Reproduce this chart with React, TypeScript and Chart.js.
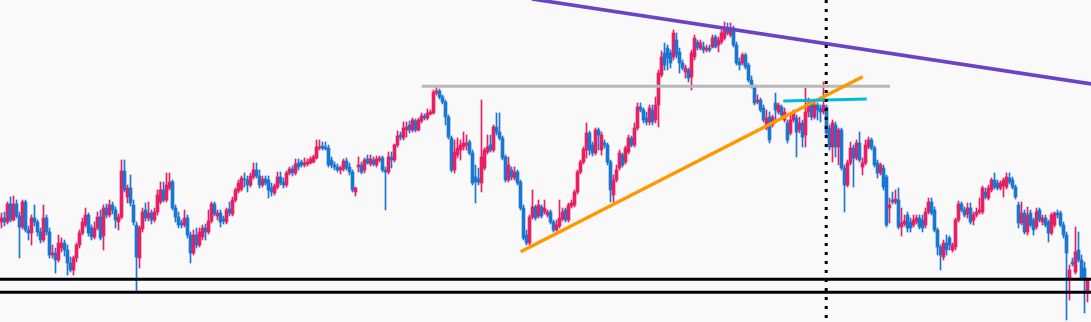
import { useEffect, useRef } from "react";
import { Chart, registerables } from "chart.js";

Chart.register(...registerables);

// ---- Candle data (price units) ----
const opens = [
  100,104,100,118,102,118,106,95,120,92,
  89,104,100,90,82,104,90,67,69,62,
  74,79,72,59,52,64,77,89,97,107,
  94,85,94,105,86,114,107,117,112,100,
  105,151,125,134,117,97,64,93,112,104,
  109,102,110,120,132,122,134,140,114,105,
  99,97,104,87,69,87,77,85,94,90,
  101,118,106,109,103,100,113,108,122,131,
  133,143,142,137,145,152,146,137,143,142,
  134,129,135,145,140,137,149,153,149,159,
  160,157,158,159,160,164,174,176,175,174,
  162,157,155,152,153,161,155,150,130,155,
  157,152,163,158,162,157,162,164,152,150,
  165,162,177,187,184,192,197,192,201,192,
  201,206,204,208,209,229,231,225,220,205,
  184,152,167,172,175,177,180,169,145,143,
  139,154,170,177,172,195,190,184,165,142,
  152,144,150,140,114,87,79,105,115,106,
  115,110,107,110,100,92,96,103,112,102,
  116,117,130,150,160,172,189,177,169,192,
  172,179,177,160,127,142,154,167,160,170,
  184,177,194,215,212,204,200,212,202,217,
  247,269,274,269,265,282,270,259,250,252,
  245,265,280,274,275,272,274,275,285,277,
  280,284,294,287,294,277,260,259,267,257,
  242,235,220,222,214,194,205,197,219,210,
  215,202,199,189,202,204,192,199,187,210,
  219,205,217,214,210,215,194,175,197,175,
  192,154,137,159,174,164,179,155,159,175,
  182,174,159,149,154,145,114,122,120,122,
  95,98,107,100,97,100,104,102,97,110,
  120,112,92,75,65,79,84,72,75,102,
  118,112,108,114,102,107,110,110,130,124,
  132,142,139,134,136,135,144,142,135,117,
  99,109,90,109,102,95,112,100,104,100,
  89,97,109,109,97,87,44,60,50,72,
  62,54,30,
];

const highs = [
  109,110,120,125,126,122,110,122,122,96,
  107,117,102,94,117,107,94,77,74,87,
  84,82,77,65,66,79,92,104,114,109,
  97,100,110,112,117,118,122,120,115,108,
  162,162,137,147,122,100,96,114,119,120,
  112,114,132,140,140,149,149,142,117,110,
  102,112,107,90,92,94,94,97,98,112,
  120,120,112,112,106,114,120,125,134,142,
  146,149,146,149,159,159,152,146,146,146,
  139,138,150,150,144,151,155,156,163,163,
  162,164,163,165,167,182,182,180,180,177,
  165,160,158,156,163,164,159,152,135,165,
  160,164,167,167,165,166,166,166,155,170,
  170,178,191,190,200,200,201,204,203,204,
  209,208,213,212,232,235,233,227,222,207,
  186,182,184,182,190,187,182,172,157,154,
  222,174,187,187,197,209,209,186,167,165,
  155,155,152,142,117,92,107,132,117,122,
  117,122,112,112,102,102,122,114,114,119,
  122,132,152,162,175,199,191,180,194,194,
  190,182,179,162,147,157,172,169,176,187,
  186,199,219,219,214,210,217,217,225,252,
  271,279,277,272,292,289,274,262,257,254,
  272,287,282,282,280,277,277,287,287,285,
  292,300,299,299,296,280,264,269,269,259,
  246,237,227,224,217,212,210,207,229,219,
  217,214,202,207,212,207,205,202,234,224,
  222,220,219,217,240,217,197,202,200,194,
  194,157,162,180,177,182,190,164,182,185,
  184,176,162,159,157,147,124,130,132,134,
  114,107,110,104,107,107,107,107,114,124,
  124,115,94,77,82,87,86,79,104,121,
  120,115,119,119,110,114,124,136,134,137,
  144,149,142,141,144,149,149,145,137,120,
  120,112,115,112,104,114,114,107,107,102,
  109,110,112,111,100,90,57,64,95,90,
  67,60,44,
];

const lows = [
  94,96,98,100,101,104,64,93,90,82,
  77,96,86,79,80,87,64,64,49,60,
  70,66,47,50,47,60,74,87,95,86,
  82,83,92,82,72,104,105,108,94,92,
  103,130,119,116,97,30,54,90,101,101,
  98,100,107,118,120,120,132,112,100,94,
  94,95,84,59,67,74,75,82,82,88,
  99,106,102,95,98,98,106,106,120,129,
  131,135,130,135,143,144,134,135,137,124,
  126,127,133,137,134,135,147,146,147,152,
  155,155,156,158,159,163,172,172,172,155,
  154,152,150,148,151,152,147,130,126,150,
  148,149,158,156,156,155,160,150,112,148,
  154,160,175,182,182,185,189,190,190,191,
  199,202,202,207,208,227,223,218,197,183,
  150,149,164,162,172,172,167,137,119,137,
  130,152,168,170,170,187,182,162,140,140,
  142,142,137,112,82,77,77,103,102,104,
  104,108,105,98,90,91,94,101,100,100,
  114,115,128,148,158,164,167,166,167,172,
  167,174,157,120,120,140,152,155,158,168,
  175,175,192,210,199,197,197,197,199,195,
  245,252,252,254,262,264,249,252,244,240,
  232,262,272,272,269,270,270,274,274,270,
  278,282,287,285,275,257,252,257,253,240,
  234,217,218,210,200,192,179,195,199,208,
  205,200,179,187,200,165,189,175,175,205,
  202,203,202,200,208,184,172,160,165,157,
  152,110,135,157,135,162,160,147,157,173,
  172,155,144,147,132,95,99,118,118,93,
  86,96,90,90,95,98,93,90,94,108,
  107,90,67,52,62,67,72,70,72,100,
  110,105,104,98,97,105,108,108,123,122,
  130,133,132,132,125,133,138,133,123,94,
  97,88,87,95,87,93,100,97,95,80,
  87,95,104,95,84,2,22,56,48,60,
  42,9,20,
];

const closes = [
  104,100,118,102,118,106,95,120,92,89,
  104,100,90,82,104,90,67,69,62,79,
  79,72,59,52,64,77,89,100,107,89,
  85,94,105,84,114,107,117,112,102,105,
  151,132,134,119,100,65,94,110,104,109,
  102,110,127,132,122,137,140,114,105,97,
  97,104,87,69,87,77,90,94,90,101,
  118,108,109,100,101,112,109,122,132,139,
  144,142,137,146,152,146,137,143,139,132,
  130,136,145,139,137,149,153,149,158,155,
  157,159,160,163,165,175,175,174,173,157,
  157,155,152,154,161,154,150,132,134,157,
  150,162,159,163,158,163,164,152,150,165,
  162,177,186,185,194,195,192,202,192,202,
  206,204,209,210,230,231,225,220,205,185,
  152,170,174,177,179,179,169,139,140,140,
  165,172,175,172,195,190,184,164,142,157,
  145,150,139,114,84,79,105,115,104,117,
  106,114,110,100,92,97,104,110,102,117,
  119,130,150,160,173,189,172,169,192,187,
  187,177,160,132,142,152,169,157,174,184,
  177,194,215,212,202,200,214,200,217,249,
  265,257,264,259,289,267,259,254,254,244,
  269,284,274,279,272,274,272,284,275,282,
  289,294,289,294,277,259,257,267,255,242,
  235,219,222,212,202,204,182,205,212,217,
  207,210,182,202,209,190,199,185,210,219,
  205,217,212,210,217,189,175,199,175,192,
  154,137,159,174,164,179,162,159,177,182,
  174,157,149,157,135,97,117,120,123,95,
  99,101,94,94,102,104,95,94,110,120,
  109,92,75,67,79,72,77,77,102,118,
  112,107,114,100,107,110,112,134,125,134,
  142,135,134,139,142,145,140,135,125,99,
  109,90,107,97,92,110,102,104,97,89,
  107,109,107,97,87,69,52,58,70,62,
  44,42,42,
];

// ---- Drawings: anchors as [bar index, price] ----
const descendingTrend = [[176.8, 323.1], [363.2, 238.1]];
const ascendingTrend = [[173.07, 70.3], [287.07, 245.3]];
const shortLevel = [[260.6, 221], [288.4, 223]];
const rangeHigh = [[140.07, 235.7], [296.17, 235.7]];
const supportLevels = [42.7, 29.7];
const markerBar = 274.9;

const PRICE_MIN = 0;
const PRICE_MAX = 322;
const VISIBLE_BARS = 363.667;

const UP = "#e91e63";
const DOWN = "#1976d2";
const BG = "#f9f9f9";

export default function App() {
  const ref = useRef<HTMLCanvasElement | null>(null);

  useEffect(() => {
    document.body.style.margin = "0";
    document.body.style.background = BG;
    const canvas = ref.current;
    if (!canvas) return;
    const colors = opens.map((o, i) => (closes[i] >= o ? UP : DOWN));
    const xMin = -0.5;
    const xMax = xMin + VISIBLE_BARS;

    const lineDs = (pts: number[][], color: string, order: number, extra: any = {}) => ({
      type: "line" as const,
      data: pts.map(([x, y]) => ({ x, y })),
      borderColor: color,
      borderWidth: 3,
      pointRadius: 0,
      fill: false,
      tension: 0,
      order,
      ...extra,
    });

    const bgPlugin = {
      id: "bg",
      beforeDraw(chart: any) {
        const { ctx, width, height } = chart;
        ctx.save();
        ctx.fillStyle = BG;
        ctx.fillRect(0, 0, width, height);
        ctx.restore();
      },
    };

    const chart = new Chart(canvas, {
      type: "bar",
      data: {
        datasets: [
          {
            type: "bar",
            data: opens.map((o, i) => ({ x: i, y: [o, closes[i]] })) as any,
            backgroundColor: colors,
            barThickness: 3,
            minBarLength: 1,
            grouped: false,
            borderWidth: 0,
            order: 10,
          },
          {
            type: "bar",
            data: opens.map((_, i) => ({ x: i, y: [lows[i], highs[i]] })) as any,
            backgroundColor: colors,
            barThickness: 1,
            grouped: false,
            borderWidth: 0,
            order: 11,
          },
          lineDs(descendingTrend, "#6c43c4", 5, { borderWidth: 3.5 }) as any,
          lineDs(ascendingTrend, "#ff9800", 4, { borderWidth: 3.5 }) as any,
          lineDs(rangeHigh, "#b8b8b8", 6) as any,
          lineDs(shortLevel, "#00bcd4", 3) as any,
          ...supportLevels.map((p) =>
            lineDs([[xMin, p], [xMax, p]], "#000000", 2) as any
          ),
          lineDs(
            [[markerBar, PRICE_MAX], [markerBar, PRICE_MIN]],
            "#000000",
            1,
            { borderDash: [3, 6], borderCapStyle: "butt" }
          ) as any,
        ],
      },
      options: {
        responsive: false,
        animation: false,
        devicePixelRatio: 1,
        layout: { padding: 0 },
        plugins: { legend: { display: false }, tooltip: { enabled: false } },
        scales: {
          x: {
            type: "linear",
            min: xMin,
            max: xMax,
            offset: false,
            display: false,
            grid: { display: false },
          },
          y: {
            min: PRICE_MIN,
            max: PRICE_MAX,
            display: false,
            grid: { display: false },
          },
        },
      },
      plugins: [bgPlugin],
    });

    return () => chart.destroy();
  }, []);

  return (
    <div style={{ width: 1091, height: 322, background: BG }}>
      <canvas ref={ref} width={1091} height={322} style={{ display: "block" }} />
    </div>
  );
}
